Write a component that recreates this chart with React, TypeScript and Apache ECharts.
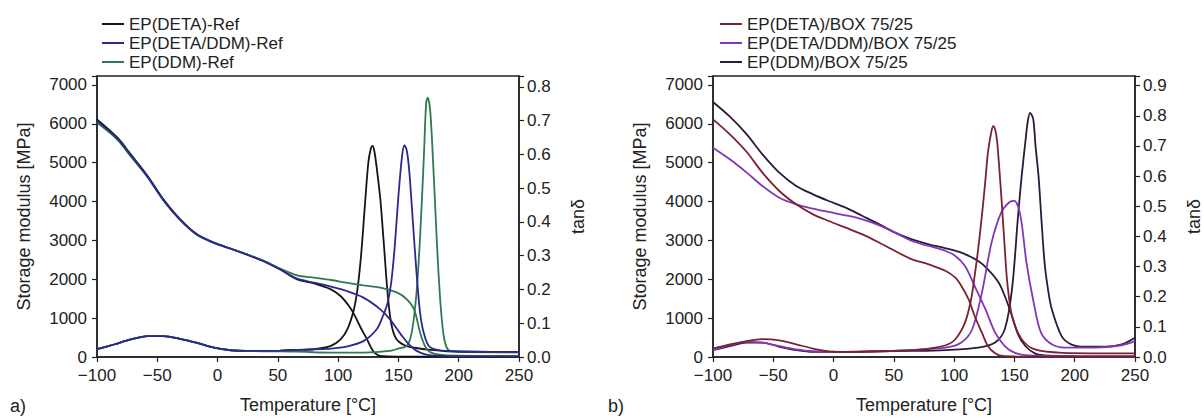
import React, { useEffect, useRef } from "react";
import * as echarts from "echarts";

// ---------- names & colours ----------
const namesA = ["EP(DETA)-Ref", "EP(DETA/DDM)-Ref", "EP(DDM)-Ref"];
const namesB = ["EP(DETA)/BOX 75/25", "EP(DETA/DDM)/BOX 75/25", "EP(DDM)/BOX 75/25"];
const colorsA = ["#151515", "#2c2890", "#2f7a4f"];
const colorsB = ["#7a2230", "#8236b8", "#2b1a3c"];

// ---------- panel a) storage modulus [MPa] ----------
const eRefDetaT = [-100, -83, -72, -58, -45, -31, -17, -3, 11, 24, 38, 52, 66, 80, 94, 102, 110, 114, 118, 121, 124, 127, 130, 135, 150, 200, 250];
const eRefDeta = [6115, 5643, 5214, 4657, 4056, 3542, 3156, 2941, 2787, 2641, 2470, 2255, 1998, 1895, 1741, 1569, 1269, 1050, 798, 620, 455, 260, 111, 26, 10, 8, 8];
const eRefMixT = [-100, -83, -72, -58, -45, -31, -17, -3, 11, 24, 38, 52, 66, 80, 94, 107, 121, 135, 143, 152, 160, 168, 177, 200, 250];
const eRefMix = [6070, 5620, 5190, 4640, 4050, 3535, 3150, 2938, 2785, 2640, 2468, 2250, 2015, 1912, 1810, 1698, 1527, 1226, 969, 583, 283, 111, 43, 20, 15];
const eRefDdmT = [-100, -83, -72, -58, -45, -31, -17, -3, 11, 24, 38, 52, 66, 80, 94, 107, 121, 135, 149, 157, 163, 168, 172, 177, 190, 250];
const eRefDdm = [6030, 5590, 5160, 4620, 4030, 3520, 3140, 2935, 2785, 2645, 2480, 2275, 2101, 2041, 1981, 1912, 1844, 1784, 1655, 1484, 1226, 626, 283, 111, 43, 30];

// ---------- panel a) tan delta ----------
const tanRefDetaT = [-100, -86, -72, -58, -45, -31, -17, -3, 11, 24, 38, 52, 66, 80, 94, 102, 108, 113, 116, 119, 122, 125, 127, 128.5, 130, 132, 135, 138, 141, 144, 148, 155, 163, 177, 200, 250];
const tanRefDeta = [0.023, 0.037, 0.052, 0.062, 0.062, 0.054, 0.042, 0.028, 0.02, 0.018, 0.018, 0.019, 0.021, 0.023, 0.033, 0.052, 0.085, 0.14, 0.2, 0.3, 0.44, 0.575, 0.615, 0.625, 0.61, 0.56, 0.467, 0.33, 0.19, 0.1, 0.055, 0.035, 0.028, 0.021, 0.015, 0.014];
const tanRefMixT = [-100, -86, -72, -58, -45, -31, -17, -3, 11, 24, 38, 52, 66, 80, 94, 107, 121, 132, 137, 141, 144, 147, 150, 153, 155, 157, 159, 162, 165, 168, 171, 176, 190, 250];
const tanRefMix = [0.023, 0.037, 0.052, 0.062, 0.062, 0.054, 0.042, 0.028, 0.02, 0.018, 0.018, 0.019, 0.021, 0.023, 0.025, 0.031, 0.047, 0.082, 0.12, 0.16, 0.22, 0.33, 0.477, 0.595, 0.627, 0.61, 0.55, 0.4, 0.25, 0.13, 0.072, 0.03, 0.018, 0.015];
const tanRefDdmT = [-100, -86, -72, -58, -45, -31, -17, -3, 11, 24, 38, 52, 66, 80, 94, 121, 143, 150, 157, 161, 165, 168, 171, 173, 174.3, 176.5, 179.3, 183.4, 187.6, 193, 250];
const tanRefDdm = [0.023, 0.037, 0.052, 0.062, 0.062, 0.054, 0.042, 0.028, 0.02, 0.018, 0.017, 0.017, 0.016, 0.014, 0.013, 0.013, 0.018, 0.025, 0.033, 0.072, 0.19, 0.358, 0.585, 0.753, 0.768, 0.723, 0.536, 0.24, 0.062, 0.018, 0.015];

// ---------- panel b) storage modulus [MPa] ----------
const eBoxDetaT = [-100, -86, -72, -59, -45, -31, -17, -4, 10, 24, 38, 51, 65, 79, 93, 101, 106, 112, 117, 123, 128, 134, 140, 160, 250];
const eBoxDeta = [6115, 5729, 5274, 4743, 4271, 3928, 3670, 3499, 3327, 3156, 2941, 2727, 2513, 2384, 2213, 2041, 1827, 1484, 1055, 626, 283, 94, 26, 10, 8];
const eBoxMixT = [-100, -86, -72, -59, -45, -31, -17, -4, 10, 24, 38, 51, 65, 79, 93, 101, 109, 117, 126, 134, 142, 150, 161, 200, 250];
const eBoxMix = [5386, 5086, 4743, 4400, 4099, 3928, 3816, 3731, 3645, 3542, 3388, 3199, 2984, 2856, 2727, 2598, 2341, 1827, 1226, 626, 283, 111, 43, 20, 15];
const eBoxDdmT = [-100, -86, -72, -59, -45, -31, -17, -4, 10, 24, 38, 51, 65, 79, 93, 106, 120, 128, 137, 142, 148, 153, 159, 167, 175, 200, 250];
const eBoxDdm = [6561, 6183, 5729, 5214, 4743, 4400, 4185, 4014, 3842, 3628, 3413, 3199, 3027, 2899, 2796, 2684, 2470, 2255, 1912, 1569, 1055, 583, 283, 94, 43, 20, 15];

// ---------- panel b) tan delta ----------
const tanBoxDetaT = [-100, -86, -72, -59, -45, -31, -17, -4, 10, 38, 65, 79, 93, 101, 109, 114, 117, 120, 123, 126, 128, 131, 132.5, 134, 135.5, 137, 139.5, 142, 144, 148, 156, 167, 190, 250];
const tanBoxDeta = [0.028, 0.042, 0.053, 0.059, 0.055, 0.042, 0.028, 0.019, 0.017, 0.019, 0.023, 0.028, 0.039, 0.059, 0.114, 0.19, 0.269, 0.36, 0.468, 0.59, 0.678, 0.75, 0.766, 0.755, 0.72, 0.65, 0.512, 0.36, 0.25, 0.136, 0.059, 0.025, 0.014, 0.012];
const tanBoxMixT = [-100, -86, -72, -59, -45, -31, -17, 10, 38, 65, 93, 106, 115, 123, 131, 139, 146, 150, 155, 160, 166, 172, 181, 192, 217, 239, 250];
const tanBoxMix = [0.023, 0.039, 0.05, 0.048, 0.036, 0.025, 0.019, 0.017, 0.019, 0.023, 0.031, 0.048, 0.092, 0.213, 0.379, 0.479, 0.514, 0.518, 0.468, 0.313, 0.18, 0.081, 0.042, 0.031, 0.031, 0.039, 0.053];
const tanBoxDdmT = [-100, -86, -72, -59, -45, -31, -17, 10, 38, 65, 93, 120, 134, 142, 148, 153, 156, 159, 161, 163, 165.6, 167.5, 170, 172.5, 175, 178, 181, 189, 197, 208, 225, 239, 250];
const tanBoxDdm = [0.023, 0.036, 0.048, 0.048, 0.034, 0.023, 0.017, 0.017, 0.019, 0.02, 0.023, 0.031, 0.048, 0.092, 0.225, 0.468, 0.6, 0.711, 0.78, 0.81, 0.789, 0.7, 0.6, 0.45, 0.313, 0.22, 0.158, 0.07, 0.042, 0.034, 0.034, 0.042, 0.064];

// ---------- axis ranges ----------
const tempMin = -100;
const tempMax = 250;
const tempStep = 50;
const modMax = 7230;
const modStep = 1000;
const tanMaxA = 0.832;
const tanMaxB = 0.932;
const tanStep = 0.1;

const zip = (t: number[], v: number[]) => t.map((x, i) => [x, v[i]]);

const FONT = "'Liberation Sans', Arial, Helvetica, sans-serif";
const INK = "#222";

export default function App() {
  const ref = useRef<HTMLDivElement>(null);

  useEffect(() => {
    if (!ref.current) return;
    const chart = echarts.init(ref.current, undefined, { renderer: "svg" });

    const grids = [
      { left: 97, top: 76, width: 422, height: 281 },
      { left: 713, top: 76, width: 424, height: 281 },
    ].map((g) => ({ ...g, show: true, borderColor: INK, borderWidth: 1.5, backgroundColor: "transparent" }));

    const xAxis = [0, 1].map((i) => ({
      type: "value",
      gridIndex: i,
      min: tempMin,
      max: tempMax,
      interval: tempStep,
      axisLine: { show: true, onZero: false, lineStyle: { color: INK, width: 1.5 } },
      axisTick: { show: true, inside: false, length: 5, lineStyle: { color: INK, width: 1.2 } },
      axisLabel: {
        color: INK,
        fontSize: 17,
        fontFamily: FONT,
        margin: 10,
        formatter: (v: number) => (v < 0 ? "\u2212" + Math.abs(v) : String(v)),
      },
      splitLine: { show: false },
      name: "Temperature [°C]",
      nameLocation: "middle",
      nameGap: 39,
      nameTextStyle: { color: INK, fontSize: 18, fontFamily: FONT },
    }));

    const modAxis = (gi: number) => ({
      type: "value",
      gridIndex: gi,
      position: "left",
      min: 0,
      max: modMax,
      interval: modStep,
      axisLine: { show: true, onZero: false, lineStyle: { color: INK, width: 1.5 } },
      axisTick: { show: true, inside: false, length: 5, lineStyle: { color: INK, width: 1.2 } },
      axisLabel: {
        color: INK,
        fontSize: 17,
        fontFamily: FONT,
        margin: 10,
        formatter: (v: number) => (v % modStep === 0 ? String(v) : ""),
      },
      splitLine: { show: false },
      name: "Storage modulus [MPa]",
      nameLocation: "middle",
      nameRotate: 90,
      nameGap: 64,
      nameTextStyle: { color: INK, fontSize: 18, fontFamily: FONT },
    });

    const tanAxis = (gi: number, max: number) => ({
      type: "value",
      gridIndex: gi,
      position: "right",
      min: 0,
      max,
      interval: tanStep,
      axisLine: { show: true, onZero: false, lineStyle: { color: INK, width: 1.5 } },
      axisTick: { show: true, inside: false, length: 5, lineStyle: { color: INK, width: 1.2 } },
      axisLabel: {
        color: INK,
        fontSize: 17,
        fontFamily: FONT,
        margin: 8,
        formatter: (v: number) => (Math.abs(v * 10 - Math.round(v * 10)) < 1e-6 ? v.toFixed(1) : ""),
      },
      splitLine: { show: false },
      name: "tanδ",
      nameLocation: "middle",
      nameRotate: 90,
      nameGap: 50,
      nameTextStyle: { color: INK, fontSize: 18, fontFamily: FONT },
    });

    const yAxis = [modAxis(0), tanAxis(0, tanMaxA), modAxis(1), tanAxis(1, tanMaxB)];

    const line = (name: string, color: string, xi: number, yi: number, data: number[][]) => ({
      type: "line",
      name,
      xAxisIndex: xi,
      yAxisIndex: yi,
      data,
      showSymbol: false,
      symbol: "none",
      smooth: 0.3,
      color,
      lineStyle: { color, width: 1.8 },
      emphasis: { disabled: true },
    });

    const series = [
      line(namesA[0], colorsA[0], 0, 0, zip(eRefDetaT, eRefDeta)),
      line(namesA[0], colorsA[0], 0, 1, zip(tanRefDetaT, tanRefDeta)),
      line(namesA[2], colorsA[2], 0, 0, zip(eRefDdmT, eRefDdm)),
      line(namesA[2], colorsA[2], 0, 1, zip(tanRefDdmT, tanRefDdm)),
      line(namesA[1], colorsA[1], 0, 0, zip(eRefMixT, eRefMix)),
      line(namesA[1], colorsA[1], 0, 1, zip(tanRefMixT, tanRefMix)),
      line(namesB[2], colorsB[2], 1, 2, zip(eBoxDdmT, eBoxDdm)),
      line(namesB[2], colorsB[2], 1, 3, zip(tanBoxDdmT, tanBoxDdm)),
      line(namesB[1], colorsB[1], 1, 2, zip(eBoxMixT, eBoxMix)),
      line(namesB[1], colorsB[1], 1, 3, zip(tanBoxMixT, tanBoxMix)),
      line(namesB[0], colorsB[0], 1, 2, zip(eBoxDetaT, eBoxDeta)),
      line(namesB[0], colorsB[0], 1, 3, zip(tanBoxDetaT, tanBoxDeta)),
    ];

    const legendBase = {
      orient: "vertical",
      top: 10,
      itemWidth: 22,
      itemHeight: 2,
      itemGap: 1,
      icon: "rect",
      selectedMode: false,
      textStyle: { color: INK, fontSize: 17, fontFamily: FONT, lineHeight: 18 },
    };

    chart.setOption({
      animation: false,
      backgroundColor: "#fff",
      grid: grids,
      xAxis,
      yAxis,
      legend: [
        { ...legendBase, left: 97, data: namesA },
        { ...legendBase, left: 715, data: namesB },
      ],
      graphic: [
        { type: "text", left: 10, top: 397, style: { text: "a)", fill: INK, fontSize: 18, fontFamily: FONT } },
        { type: "text", left: 608, top: 397, style: { text: "b)", fill: INK, fontSize: 18, fontFamily: FONT } },
      ],
      series,
    });

    return () => chart.dispose();
  }, []);

  return (
    <div
      ref={ref}
      style={{ position: "fixed", left: 0, top: 0, width: 1204, height: 419 }}
    />
  );
}
